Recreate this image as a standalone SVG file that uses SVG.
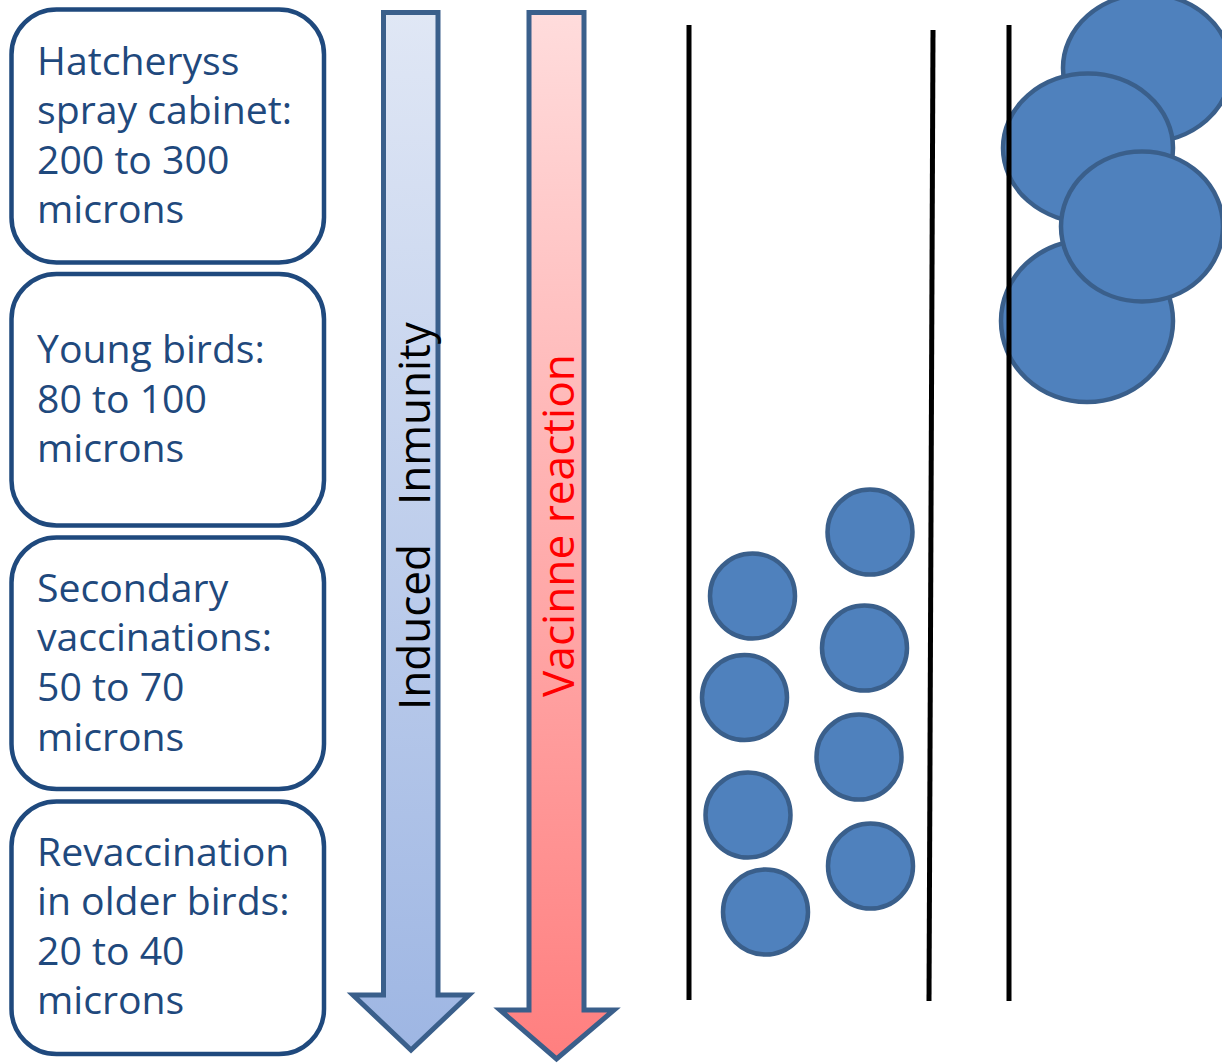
<svg xmlns="http://www.w3.org/2000/svg" width="1222" height="1064" viewBox="0 0 1222 1064">
<style>
.box{fill:#fff;stroke:#1f497d;stroke-width:4.5}
.lbl{font-family:"Open Sans","Noto Sans",sans-serif;font-size:39.2px;fill:#1f497d}
.arrow{stroke:#3a5f8b;stroke-width:5;stroke-linejoin:miter}
.vt{font-family:"Open Sans","Noto Sans",sans-serif}
.dot{fill:#4f81bd;stroke:#3a5f8b;stroke-width:4.5}
.wall{stroke:#000;stroke-width:5;fill:none}
</style>
<defs>
<linearGradient id="gBlue" x1="0" y1="0" x2="0" y2="1">
<stop offset="0" stop-color="#e0e7f5"/>
<stop offset="1" stop-color="#9eb6e3"/>
</linearGradient>
<linearGradient id="gRed" x1="0" y1="0" x2="0" y2="1">
<stop offset="0" stop-color="#ffdcdc"/>
<stop offset="1" stop-color="#ff7f7f"/>
</linearGradient>
</defs>
<rect width="1222" height="1064" fill="#fff"/>

<g id="box-hatchery">
<rect class="box" x="11.5" y="9.5" width="312.5" height="253" rx="45"/>
<text class="lbl"><tspan x="37" y="75">Hatcheryss</tspan><tspan x="37" y="124">spray cabinet:</tspan><tspan x="37" y="174">200 to 300</tspan><tspan x="37" y="223">microns</tspan></text>
</g>
<g id="box-young">
<rect class="box" x="11.5" y="274" width="312.5" height="251.5" rx="45"/>
<text class="lbl"><tspan x="37" y="363">Young birds:</tspan><tspan x="37" y="413">80 to 100</tspan><tspan x="37" y="462">microns</tspan></text>
</g>
<g id="box-secondary">
<rect class="box" x="11.5" y="537.5" width="312.5" height="251.5" rx="45"/>
<text class="lbl"><tspan x="37" y="602">Secondary</tspan><tspan x="37" y="651">vaccinations:</tspan><tspan x="37" y="701">50 to 70</tspan><tspan x="37" y="751">microns</tspan></text>
</g>
<g id="box-revacc">
<rect class="box" x="11.5" y="801.5" width="312.5" height="252.5" rx="45"/>
<text class="lbl"><tspan x="37" y="866">Revaccination</tspan><tspan x="37" y="915">in older birds:</tspan><tspan x="37" y="965">20 to 40</tspan><tspan x="37" y="1014">microns</tspan></text>
</g>

<g id="arrow-immunity">
<polygon class="arrow" fill="url(#gBlue)" points="383.5,12.5 438,12.5 438,995 469,995 411,1050 353,995 383.5,995"/>
<text class="vt" transform="translate(430,710) rotate(-90)" font-size="44" fill="#000">Induced <tspan x="205">Inmunity</tspan></text>
</g>
<g id="arrow-reaction">
<polygon class="arrow" fill="url(#gRed)" points="529,12.5 584,12.5 584,1010 614,1010 556.5,1059 500,1010 529,1010"/>
<text class="vt" transform="translate(574,697) rotate(-90)" font-size="44.2" fill="#ff0000">Vacinne reaction</text>
</g>

<g id="small-droplets">
<circle class="dot" cx="870" cy="532" r="42.5"/>
<circle class="dot" cx="752.5" cy="596" r="42.5"/>
<circle class="dot" cx="864.5" cy="648" r="42.5"/>
<circle class="dot" cx="744.5" cy="697.5" r="42.5"/>
<circle class="dot" cx="859" cy="757" r="42.5"/>
<circle class="dot" cx="748" cy="815" r="42.5"/>
<circle class="dot" cx="870.5" cy="866" r="42.5"/>
<circle class="dot" cx="765.5" cy="912" r="42.5"/>
</g>

<g id="large-droplets">
<ellipse class="dot" cx="1147" cy="68" rx="84" ry="74"/>
<ellipse class="dot" cx="1088" cy="148" rx="85" ry="74.5"/>
<ellipse class="dot" cx="1087" cy="321" rx="86" ry="81"/>
<ellipse class="dot" cx="1142" cy="226.5" rx="81" ry="75"/>
</g>

<g id="connectors">
<line class="wall" x1="689" y1="25" x2="689" y2="1000"/>
<line class="wall" x1="933" y1="30" x2="929" y2="1001"/>
<line class="wall" x1="1009" y1="25" x2="1009" y2="1001"/>
</g>
</svg>
